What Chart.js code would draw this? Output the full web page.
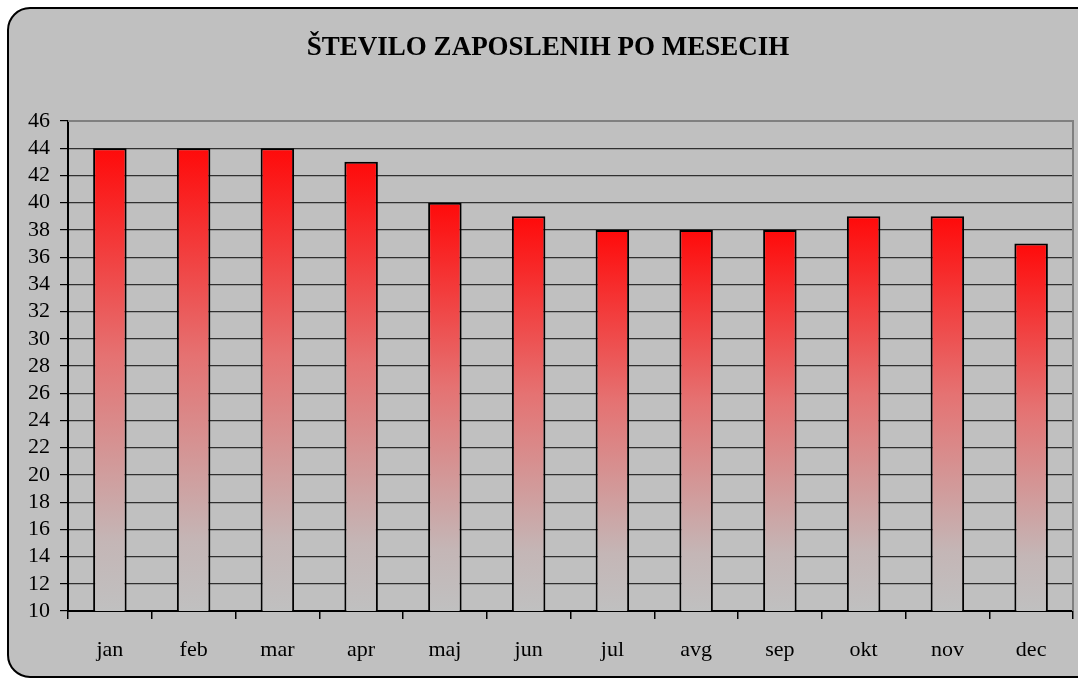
<!DOCTYPE html>
<html>
<head>
<meta charset="utf-8">
<script src="https://cdn.jsdelivr.net/npm/chart.js@4/dist/chart.umd.min.js"></script>
<style>
  html, body { margin: 0; padding: 0; background: #ffffff; }
  #wrap { width: 1078px; height: 679px; position: relative; }
</style>
</head>
<body>
<div id="wrap"><canvas id="chart"></canvas></div>
<script>
const title = 'ŠTEVILO ZAPOSLENIH PO MESECIH';
const months = ['jan', 'feb', 'mar', 'apr', 'maj', 'jun', 'jul', 'avg', 'sep', 'okt', 'nov', 'dec'];
const employees = [44, 44, 44, 43, 40, 39, 38, 38, 38, 39, 39, 37];
const yMin = 10;
const yMax = 46;
const yStep = 2;

const serif = '"Liberation Serif", "Times New Roman", serif';

// grey frame with rounded corners + title, drawn behind the chart
const framePlugin = {
  id: 'frame',
  beforeDraw(chart) {
    const c = chart.ctx;
    c.save();
    c.fillStyle = '#ffffff';
    c.fillRect(0, 0, chart.width, chart.height);
    c.beginPath();
    c.roundRect(8, 8, 1090, 669, 22);
    c.fillStyle = '#c0c0c0';
    c.fill();
    c.lineWidth = 2;
    c.strokeStyle = '#000000';
    c.stroke();
    c.fillStyle = '#000000';
    c.font = 'bold 27px ' + serif;
    c.textAlign = 'center';
    c.textBaseline = 'middle';
    c.fillText(title, 548, 48);
    c.restore();
  },
  afterDatasetsDraw(chart) {
    const a = chart.chartArea;
    const c = chart.ctx;
    c.save();
    c.strokeStyle = '#808080';
    c.lineWidth = 2;
    c.beginPath();
    c.moveTo(a.left, a.top);
    c.lineTo(a.right, a.top);
    c.lineTo(a.right, a.bottom);
    c.stroke();
    c.restore();
  }
};

function barGradient(context) {
  const chart = context.chart;
  if (!chart.chartArea || !chart.scales.y) return '#ff0000';
  const y = chart.scales.y;
  const v = context.raw;
  const top = y.getPixelForValue(v);
  const bottom = y.getPixelForValue(yMin);
  const g = chart.ctx.createLinearGradient(0, top, 0, bottom);
  g.addColorStop(0, '#ff0a0a');
  g.addColorStop(0.45, '#e57272');
  g.addColorStop(0.85, '#c4b6b6');
  g.addColorStop(1, '#c0c0c0');
  return g;
}

new Chart(document.getElementById('chart'), {
  type: 'bar',
  data: {
    labels: months,
    datasets: [{
      data: employees,
      backgroundColor: barGradient,
      borderColor: '#000000',
      borderWidth: 2,
      borderSkipped: 'bottom',
      categoryPercentage: 1,
      barPercentage: 0.4
    }]
  },
  options: {
    responsive: true,
    maintainAspectRatio: false,
    animation: false,
    layout: { padding: { top: 121, right: 5, left: 0, bottom: 0 } },
    plugins: {
      legend: { display: false },
      title: { display: false },
      tooltip: { enabled: false }
    },
    scales: {
      x: {
        offset: true,
        grid: {
          offset: true,
          drawOnChartArea: false,
          drawTicks: true,
          tickLength: 8,
          color: '#000000',
          lineWidth: 1.5
        },
        border: { color: '#000000', width: 2 },
        ticks: {
          color: '#000000',
          padding: 18,
          autoSkip: false,
          maxRotation: 0,
          font: { family: serif, size: 22 }
        },
        afterFit(scale) { scale.height = 68; }
      },
      y: {
        min: yMin,
        max: yMax,
        grid: {
          color: (ctx) => ctx.tick && ctx.tick.value === yMax ? 'rgba(0,0,0,0)' : '#303030',
          lineWidth: 1.2,
          tickLength: 8,
          tickColor: '#000000'
        },
        border: { color: '#000000', width: 2 },
        ticks: {
          stepSize: yStep,
          color: '#000000',
          padding: 10,
          autoSkip: false,
          font: { family: serif, size: 22, lineHeight: 1 }
        },
        afterFit(scale) { scale.width = 68; }
      }
    }
  },
  plugins: [framePlugin]
});
</script>
</body>
</html>
